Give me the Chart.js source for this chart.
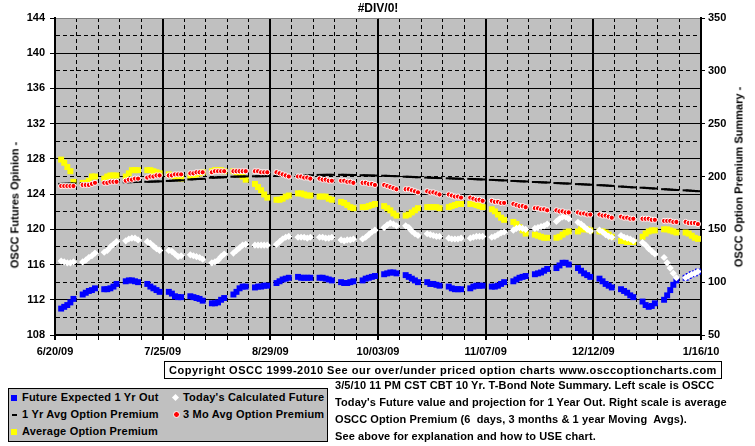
<!DOCTYPE html>
<html>
<head>
<meta charset="utf-8">
<script src="https://cdn.jsdelivr.net/npm/chart.js@4.4.0/dist/chart.umd.min.js"></script>
<style>
  body { margin: 0; background: #fff; }
  #wrap { position: relative; width: 755px; height: 446px; overflow: hidden;
          font-family: 'Liberation Sans', Arial, sans-serif; font-weight: bold; font-size: 11px; color: #000; }
  #wrap canvas { position: absolute; left: 0; top: 0; }
  .txt { position: absolute; white-space: nowrap; line-height: 13px; }
  .rot { transform: translate(-50%, -50%) rotate(-90deg); }
  #title { left: 378px; top: 2px; font-size: 12px; transform: translateX(-50%); }
  #copy { left: 164px; top: 361px; width: 556px; height: 16px; border: 1px solid #000; text-align: center; line-height: 16px; letter-spacing: 0.5px; }
  #legend { position: absolute; left: 8px; top: 388px; width: 318px; height: 52px; border: 1px solid #000; background: #c0c0c0; }
  #legend .txt { letter-spacing: 0.2px; }
  .mk { position: absolute; }
  #desc { left: 335px; top: 377px; line-height: 17px; letter-spacing: 0.1px; }
</style>
</head>
<body>
<div id="wrap">
  <canvas id="chart" width="755" height="446"></canvas>
  <div class="txt" id="title">#DIV/0!</div>
  <div class="txt rot" style="left:15px; top:205px;">OSCC Futures Opinion -</div>
  <div class="txt rot" style="left:739px; top:177px;">OSCC Option Premium Summary -</div>
  <div class="txt" id="copy">Copyright OSCC 1999-2010 See our over/under priced option charts www.osccoptioncharts.com</div>
  <div id="legend">
    <div class="mk" style="left:2px; top:6px; width:6px; height:6px; background:#0000ff;"></div>
    <div class="txt" style="left:13px; top:2px;">Future Expected 1 Yr Out</div>
    <div class="mk" style="left:164px; top:6px; width:5px; height:5px; background:#fff; transform:rotate(45deg);"></div>
    <div class="txt" style="left:174px; top:2px;">Today's Calculated Future</div>
    <div class="mk" style="left:3px; top:25px; width:5px; height:2px; background:#000;"></div>
    <div class="txt" style="left:13px; top:19px;">1 Yr Avg Option Premium</div>
    <div class="mk" style="left:164px; top:22px; width:5px; height:5px; border-radius:50%; background:#ff0000; border:1px solid #fff;"></div>
    <div class="txt" style="left:174px; top:19px;">3 Mo Avg Option Premium</div>
    <div class="mk" style="left:2px; top:40px; width:6px; height:6px; background:#ffff00;"></div>
    <div class="txt" style="left:13px; top:36px;">Average Option Premium</div>
  </div>
  <div class="txt" id="desc">3/5/10 11 PM CST CBT 10 Yr. T-Bond Note Summary. Left scale is OSCC<br>Today's Future value and projection for 1 Year Out. Right scale is average<br>OSCC Option Premium (6&nbsp; days, 3 months &amp; 1 year Moving&nbsp; Avgs).<br>See above for explanation and how to USE chart.</div>
</div>
<script>
const tickLabels = ['6/20/09', '7/25/09', '8/29/09', '10/03/09', '11/07/09', '12/12/09', '1/16/10'];

// trading days, counted from Sat 6/20/09: Mon..Fri of each of the 30 weeks
const tradingDays = [];
for (let w = 0; w < 30; w++) {
  for (let d = 2; d <= 6; d++) tradingDays.push(w * 7 + d);
}

// left scale
const futureExpected1Yr = [
  111.0, 111.2, 111.4, 111.7, 112.1,  112.6, 112.8, 113.0, 113.1, 113.3,
  113.2, 113.2, 113.3, 113.5, 113.8,  114.1, 114.2, 114.2, 114.1, 114.0,
  113.8, 113.5, 113.3, 113.1, 112.9,  112.9, 112.7, 112.4, 112.3, 112.3,
  112.4, 112.3, 112.2, 112.1, 111.9,  111.6, 111.6, 111.7, 112.0, 112.2,
  112.6, 112.9, 113.3, 113.5, 113.5,  113.4, 113.5, 113.5, 113.6, 113.6,
  113.9, 114.1, 114.3, 114.4, 114.5,  114.6, 114.5, 114.5, 114.5, 114.5,
  114.5, 114.5, 114.4, 114.3, 114.2,  114.0, 113.9, 113.9, 114.0, 114.1,
  114.2, 114.4, 114.5, 114.6, 114.7,  114.9, 115.0, 115.1, 115.1, 115.0,
  114.8, 114.6, 114.4, 114.2, 114.0,  114.0, 113.8, 113.8, 113.7, 113.6,
  113.5, 113.3, 113.2, 113.2, 113.2,  113.3, 113.5, 113.6, 113.6, 113.6,
  113.5, 113.5, 113.6, 113.8, 114.0,  114.1, 114.3, 114.5, 114.6, 114.7,
  114.9, 115.0, 115.1, 115.3, 115.5,  115.6, 115.9, 116.2, 116.2, 116.0,
  115.6, 115.3, 115.0, 114.8, 114.6,  114.4, 114.1, 113.8, 113.6, 113.4,
  113.2, 113.0, 112.8, 112.5, 112.3,  111.8, 111.4, 111.2, 111.3, 111.6,
  112.0, 112.5, 113.1, 113.7, 114.2,  114.5, 114.7, 114.9, 115.0, 115.2
];
const todaysFuture = [
  116.4, 116.3, 116.2, 116.2, 116.3,  116.3, 116.5, 116.8, 117.0, 117.3,
  117.4, 117.6, 118.0, 118.3, 118.6,  118.7, 118.9, 119.0, 119.0, 118.8,
  118.6, 118.4, 118.1, 117.8, 117.6,  117.6, 117.5, 117.2, 116.9, 117.0,
  117.1, 117.0, 116.9, 116.8, 116.6,  116.2, 116.3, 116.5, 116.9, 117.2,
  117.3, 117.6, 117.9, 118.2, 118.3,  118.2, 118.2, 118.2, 118.2, 118.2,
  118.3, 118.6, 118.9, 119.1, 119.2,  119.1, 119.1, 119.1, 119.0, 119.1,
  119.1, 119.1, 119.0, 119.0, 119.1,  118.8, 118.7, 118.8, 118.8, 118.9,
  118.9, 119.1, 119.4, 119.7, 119.9,  120.2, 120.5, 120.7, 120.6, 120.4,
  120.4, 120.2, 119.8, 119.5, 119.3,  119.5, 119.4, 119.3, 119.2, 119.2,
  119.0, 118.9, 118.9, 118.9, 119.0,  119.0, 119.1, 119.2, 119.2, 119.2,
  119.1, 119.2, 119.4, 119.6, 119.7,  119.9, 120.1, 120.2, 120.1, 120.0,
  120.1, 120.2, 120.3, 120.4, 120.6,  120.9, 121.2, 121.4, 121.4, 121.2,
  120.8, 120.6, 120.3, 120.0, 119.8,  119.9, 119.7, 119.4, 119.2, 119.1,
  119.3, 119.1, 119.0, 118.9, 118.7,  118.5, 118.2, 117.8, 117.5, 117.2,
  116.8, 116.2, 115.6, 115.0, 114.5,  114.5, 114.7, 114.9, 115.0, 115.2
];

// right scale
const yrAvgPremium = [
  193.0, 193.1, 193.2, 193.3, 193.4,  193.5, 193.6, 193.7, 193.8, 193.9,
  194.0, 194.1, 194.2, 194.3, 194.4,  194.5, 194.6, 194.7, 194.8, 194.9,
  195.0, 195.1, 195.2, 195.3, 195.4,  195.8, 196.0, 196.2, 196.3, 196.4,
  197.2, 197.4, 197.6, 197.7, 197.8,  198.8, 199.0, 199.1, 199.2, 199.3,
  199.8, 199.9, 200.0, 200.0, 200.1,  200.2, 200.2, 200.3, 200.3, 200.4,
  200.5, 200.6, 200.6, 200.7, 200.7,  201.0, 201.0, 201.1, 201.1, 201.2,
  201.5, 201.5, 201.6, 201.6, 201.6,  201.6, 201.6, 201.5, 201.5, 201.4,
  201.2, 201.1, 201.0, 200.9, 200.9,  200.7, 200.6, 200.5, 200.4, 200.3,
  199.8, 199.7, 199.6, 199.4, 199.3,  199.0, 198.9, 198.7, 198.6, 198.5,
  198.3, 198.2, 198.0, 197.9, 197.8,  197.7, 197.6, 197.4, 197.3, 197.2,
  196.8, 196.7, 196.5, 196.4, 196.3,  195.8, 195.7, 195.5, 195.4, 195.3,
  194.8, 194.7, 194.5, 194.4, 194.3,  193.8, 193.7, 193.5, 193.4, 193.3,
  192.8, 192.7, 192.5, 192.4, 192.2,  191.8, 191.7, 191.5, 191.3, 191.1,
  190.5, 190.3, 190.1, 189.9, 189.7,  189.4, 189.2, 189.0, 188.8, 188.6,
  188.0, 187.8, 187.6, 187.4, 187.2,  186.9, 186.7, 186.5, 186.3, 186.1
];
const moAvgPremium = [
  191, 191, 191, 191, 191,  192, 192, 192, 193, 194,
  194, 194, 195, 195, 195,  196, 197, 197, 198, 198,
  199, 200, 200, 201, 201,  201, 201, 202, 202, 202,
  203, 203, 204, 204, 204,  204, 205, 205, 205, 205,
  205, 205, 205, 205, 205,  205, 205, 204, 204, 204,
  204, 203, 202, 201, 200,  200, 200, 199, 199, 198,
  198, 197, 197, 196, 196,  196, 196, 195, 195, 194,
  194, 194, 193, 193, 192,  192, 191, 190, 189, 188,
  188, 188, 187, 186, 185,  186, 185, 185, 184, 183,
  183, 182, 181, 181, 180,  180, 179, 178, 178, 177,
  177, 176, 176, 175, 175,  174, 173, 172, 172, 171,
  170, 170, 169, 169, 168,  168, 167, 167, 166, 166,
  166, 165, 165, 164, 164,  164, 163, 163, 162, 161,
  162, 161, 161, 160, 160,  160, 160, 160, 159, 159,
  158, 158, 158, 157, 157,  157, 156, 156, 156, 155
];
const avgPremium = [
  216, 213, 209, 205, 195,  194, 194, 196, 200, 200,
  198, 200, 201, 201, 201,  200, 203, 206, 206, 206,
  206, 206, 205, 204, 203,  202, 201, 200, 199, 198,
  200, 201, 202, 203, 204,  205, 206, 206, 206, 205,
  205, 204, 202, 200, 197,  193, 190, 187, 183, 180,
  178, 178, 179, 181, 182,  184, 184, 183, 182, 182,
  181, 181, 181, 179, 178,  176, 175, 173, 171, 170,
  171, 171, 172, 173, 174,  172, 170, 168, 165, 163,
  163, 164, 166, 168, 170,  171, 171, 171, 171, 170,
  171, 172, 173, 174, 174,  174, 174, 173, 172, 171,
  169, 167, 164, 161, 159,  157, 155, 152, 149, 146,
  145, 144, 143, 142, 142,  142, 143, 145, 147, 148,
  148, 150, 150, 150, 149,  148, 148, 147, 145, 143,
  139, 139, 138, 138, 138,  143, 146, 148, 149, 149,
  150, 150, 149, 148, 147,  147, 146, 144, 142, 141
];

const pts = arr => arr.map((v, i) => ({ x: tradingDays[i], y: v }));
const font = { family: "'Liberation Sans', Arial, sans-serif", size: 11, weight: 'bold' };

const ctx = document.getElementById('chart').getContext('2d');
const chart = new Chart(ctx, {
  type: 'scatter',
  data: {
    datasets: [
      { label: '3 Mo Avg Option Premium', data: pts(moAvgPremium), yAxisID: 'y1', order: 0,
        pointStyle: 'circle', pointRadius: 2.6, backgroundColor: '#ff0000', borderColor: '#ffffff', borderWidth: 1 },
      { label: "Today's Calculated Future", data: pts(todaysFuture), yAxisID: 'y', order: 1,
        pointStyle: 'rectRot', pointRadius: 3.6, backgroundColor: '#ffffff', borderWidth: 0 },
      { label: '1 Yr Avg Option Premium', data: pts(yrAvgPremium), yAxisID: 'y1', order: 2,
        pointStyle: 'line', pointRadius: 3, borderColor: '#000000', borderWidth: 2 },
      { label: 'Average Option Premium', data: pts(avgPremium), yAxisID: 'y1', order: 3,
        pointStyle: 'rect', pointRadius: 4.2, backgroundColor: '#ffff00', borderWidth: 0 },
      { label: 'Future Expected 1 Yr Out', data: pts(futureExpected1Yr), yAxisID: 'y', order: 4,
        pointStyle: 'rect', pointRadius: 4.2, backgroundColor: '#0000ff', borderWidth: 0 }
    ]
  },
  options: {
    responsive: false,
    animation: false,
    layout: { padding: { top: 18, left: 0, right: 0, bottom: 0 } },
    plugins: { legend: { display: false }, tooltip: { enabled: false } },
    scales: {
      x: {
        type: 'linear', min: 0, max: 210,
        afterFit: s => { s.height = 111; },
        ticks: {
          stepSize: 7, autoSkip: false, maxRotation: 0, padding: 5, color: '#000', font,
          callback: v => (v % 35 === 0 ? tickLabels[v / 35] : '')
        },
        grid: {
          color: '#000', tickLength: 5,
          lineWidth: c => (c.tick && c.tick.value % 35 === 0 ? 2 : 1)
        },
        border: { color: '#000', width: 2, dash: c => (c.tick && c.tick.value % 35 !== 0 ? [4, 3] : []) }
      },
      y: {
        position: 'left', min: 108, max: 144,
        afterFit: s => { s.width = 55; },
        ticks: {
          stepSize: 2, padding: 5, color: '#000', font,
          callback: v => (v % 4 === 0 ? v : '')
        },
        grid: {
          tickLength: 5, lineWidth: 1,
          color: c => (c.tick && c.tick.value === 144 ? '#808080' : '#000'),
          tickColor: c => (c.tick && c.tick.value % 4 === 0 ? '#000' : 'rgba(0,0,0,0)')
        },
        border: { color: '#000', width: 2, dash: c => (c.tick && c.tick.value % 4 !== 0 ? [4, 3] : []) }
      },
      y1: {
        position: 'right', min: 50, max: 350,
        afterFit: s => { s.width = 54; },
        ticks: { stepSize: 50, padding: 3, color: '#000', font },
        grid: { drawOnChartArea: false, tickLength: 4, color: '#000' },
        border: { color: '#000', width: 2 }
      }
    }
  },
  plugins: [{
    id: 'plotBg',
    beforeDraw(c) {
      const a = c.chartArea;
      c.ctx.save();
      c.ctx.fillStyle = '#c0c0c0';
      c.ctx.fillRect(a.left, a.top, a.right - a.left, a.bottom - a.top);
      c.ctx.restore();
    }
  }]
});
</script>
</body>
</html>
